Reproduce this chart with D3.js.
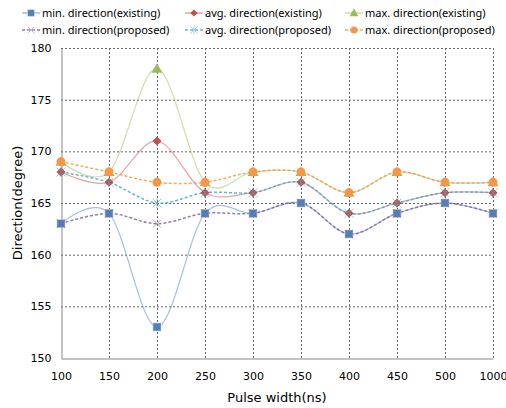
<!DOCTYPE html>
<html>
<head>
<meta charset="utf-8">
<script src="https://cdn.jsdelivr.net/npm/d3@7"></script>
<style>
  body { margin: 0; background: #fff; }
  text { font-family: "DejaVu Sans", Verdana, sans-serif; }
</style>
</head>
<body>
<div id="chart"></div>
<script>
var categories = ["100", "150", "200", "250", "300", "350", "400", "450", "500", "1000"];
var yTicks = [150, 155, 160, 165, 170, 175, 180];

var minExisting = [163, 164, 153, 164, 164, 165, 162, 164, 165, 164];
var avgExisting = [168, 167, 171, 166, 166, 167, 164, 165, 166, 166];
var maxExisting = [169, 168, 178, 167, 168, 168, 166, 168, 167, 167];
var minProposed = [163, 164, 163, 164, 164, 165, 162, 164, 165, 164];
var avgProposed = [168, 167, 165, 166, 166, 167, 164, 165, 166, 166];
var maxProposed = [169, 168, 167, 167, 168, 168, 166, 168, 167, 167];

var seriesNames = [
  "min. direction(existing)", "avg. direction(existing)", "max. direction(existing)",
  "min. direction(proposed)", "avg. direction(proposed)", "max. direction(proposed)"
];

var series = [
  { name: seriesNames[0], values: minExisting, color: "#4F81BD", marker: "square", dashed: false },
  { name: seriesNames[1], values: avgExisting, color: "#C0504D", marker: "diamond", dashed: false },
  { name: seriesNames[2], values: maxExisting, color: "#9BBB59", marker: "triangle", dashed: false },
  { name: seriesNames[3], values: minProposed, color: "#8064A2", marker: "x", dashed: true },
  { name: seriesNames[4], values: avgProposed, color: "#4BACC6", marker: "star", dashed: true },
  { name: seriesNames[5], values: maxProposed, color: "#F79646", marker: "circle", dashed: true }
];

var w = 506;
var h = 408;
var margin = { left: 61, right: 13, top: 48, bottom: 50 };

var svg = d3.select("#chart")
  .append("svg")
  .attr("width", w)
  .attr("height", h);

var xScale = d3.scalePoint()
  .domain(categories)
  .range([margin.left, w - margin.right]);

var yScale = d3.scaleLinear()
  .domain([150, 180])
  .range([h - margin.bottom, margin.top]);

// grid
svg.append("g")
  .selectAll("line")
  .data(yTicks.slice(1))
  .enter()
  .append("line")
  .attr("x1", margin.left)
  .attr("x2", w - margin.right)
  .attr("y1", function(d) { return yScale(d) + 0.5; })
  .attr("y2", function(d) { return yScale(d) + 0.5; })
  .attr("stroke", "#666")
  .attr("stroke-dasharray", "2,2");

svg.append("g")
  .selectAll("line")
  .data(categories.slice(1))
  .enter()
  .append("line")
  .attr("x1", function(d) { return Math.round(xScale(d)) + 0.5; })
  .attr("x2", function(d) { return Math.round(xScale(d)) + 0.5; })
  .attr("y1", margin.top)
  .attr("y2", h - margin.bottom)
  .attr("stroke", "#666")
  .attr("stroke-dasharray", "2,2");

// axes
var xAxis = svg.append("g")
  .attr("transform", "translate(0," + (yScale(150) + 0.5) + ")")
  .call(d3.axisBottom(xScale).tickSize(0).tickPadding(14));
xAxis.select(".domain").attr("stroke", "#888");
xAxis.selectAll("text").attr("font-size", "11px").attr("fill", "#000");

var yAxis = svg.append("g")
  .attr("transform", "translate(" + (margin.left + 0.5) + ",0)")
  .call(d3.axisLeft(yScale).tickValues(yTicks).tickSize(0).tickPadding(10));
yAxis.select(".domain").attr("stroke", "#888");
yAxis.selectAll("text").attr("font-size", "11px").attr("fill", "#000");

// lines
var line = d3.line()
  .x(function(d, i) { return xScale(categories[i]); })
  .y(function(d) { return yScale(d); })
  .curve(d3.curveCardinal.tension(0));

function drawMarker(g, type, color) {
  if (type === "square") {
    g.append("rect").attr("x", -4).attr("y", -4).attr("width", 8).attr("height", 8)
      .attr("fill", color).attr("stroke", "#bcd").attr("stroke-width", 0.6);
  } else if (type === "diamond") {
    g.append("path").attr("d", "M0,-4.5L4.5,0L0,4.5L-4.5,0Z").attr("fill", color);
  } else if (type === "triangle") {
    g.append("path").attr("d", "M0,-5.5L5.5,4L-5.5,4Z").attr("fill", color);
  } else if (type === "x") {
    g.append("path").attr("d", "M-4,-4L4,4M-4,4L4,-4").attr("stroke", color).attr("stroke-width", 1).attr("opacity", 0.6);
  } else if (type === "star") {
    g.append("path").attr("d", "M-4.5,-4.5L4.5,4.5M-4.5,4.5L4.5,-4.5M0,-5L0,5").attr("stroke", color).attr("stroke-width", 1).attr("opacity", 0.6);
  } else if (type === "circle") {
    g.append("circle").attr("r", 4.5).attr("fill", color);
  }
}

series.forEach(function(s) {
  svg.append("path")
    .datum(s.values)
    .attr("fill", "none")
    .attr("stroke", s.color)
    .attr("stroke-width", s.dashed ? 1.5 : 1.2)
    .attr("stroke-opacity", s.dashed ? 0.85 : 0.5)
    .attr("stroke-dasharray", s.dashed ? "3,2" : null)
    .attr("d", line);
});

series.forEach(function(s) {
  s.values.forEach(function(v, i) {
    var g = svg.append("g")
      .attr("transform", "translate(" + xScale(categories[i]) + "," + yScale(v) + ")");
    drawMarker(g, s.marker, s.color);
  });
});

// legend
var legendX = [22, 185, 345];
var legendY = [13, 30];
series.forEach(function(s, i) {
  var lx = legendX[i % 3];
  var ly = legendY[Math.floor(i / 3)];
  var lg = svg.append("g").attr("transform", "translate(" + lx + "," + ly + ")");
  lg.append("line")
    .attr("x1", 0).attr("x2", 18).attr("y1", 0).attr("y2", 0)
    .attr("stroke", s.color)
    .attr("stroke-width", 1.5)
    .attr("stroke-opacity", s.dashed ? 0.85 : 0.5)
    .attr("stroke-dasharray", s.dashed ? "3,2" : null);
  var m = lg.append("g").attr("transform", "translate(9,0) scale(0.8)");
  drawMarker(m, s.marker, s.color);
  lg.append("text")
    .attr("x", 20)
    .attr("y", 4)
    .style("font-family", "'Noto Sans', sans-serif")
    .style("font-size", "11px")
    .text(s.name);
});

// axis labels
svg.append("text")
  .text("Pulse width(ns)")
  .attr("x", (margin.left + w - margin.right) / 2)
  .attr("y", h - 6)
  .attr("text-anchor", "middle")
  .attr("font-size", "13px");

svg.append("text")
  .text("Direction(degree)")
  .attr("transform", "rotate(-90)")
  .attr("x", -yScale(165))
  .attr("y", 22)
  .attr("text-anchor", "middle")
  .attr("font-size", "13px");
</script>
</body>
</html>
